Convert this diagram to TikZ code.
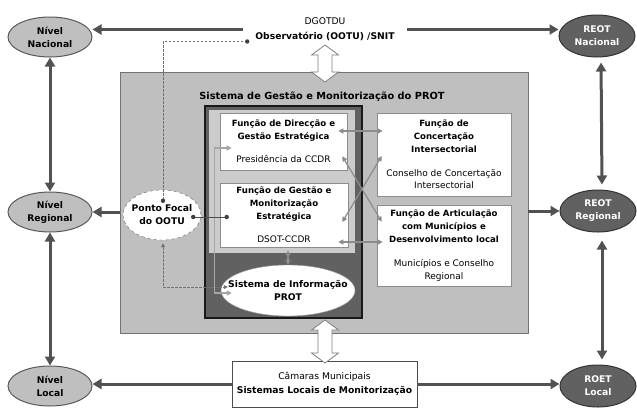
\documentclass[tikz,border=0pt]{standalone}
\usepackage{fontspec}
\setmainfont{DejaVu Sans}
\usetikzlibrary{shapes.geometric,arrows.meta,calc}
\newcommand{\hd}[1]{{\fontsize{8.6}{12.8}\selectfont\bfseries #1}}

\begin{document}
\begin{tikzpicture}[x=1pt,y=-1pt,
  every node/.style={font=\fontsize{9.2}{13}\selectfont,align=center,inner sep=0pt},
  boldtxt/.style={font=\fontsize{9.2}{13}\selectfont\bfseries},
  boxtxt/.style={font=\fontsize{9}{12.8}\selectfont},
  lvl/.style={ellipse,boldtxt,draw=black!65,line width=1pt,fill=black!25,minimum width=84,minimum height=40},
  reot/.style={ellipse,boldtxt,draw=black!80,line width=1pt,fill=black!62,text=white,minimum width=76,minimum height=42},
  fbox/.style={draw=black!45,line width=0.6pt,fill=white},
  big/.style={draw=black!68,line width=3pt,-{Triangle[length=9pt,width=10pt]}},
  bigboth/.style={big,{Triangle[length=9pt,width=10pt]}-{Triangle[length=9pt,width=10pt]}},
  link/.style={draw=black!45,line width=1.2pt,{Triangle[length=5pt,width=5pt]}-{Triangle[length=5pt,width=5pt]}},
  dashlink/.style={draw=black!55,line width=0.8pt,dash pattern=on 2.5pt off 1.5pt},
  hollow/.style={draw=black!50,line width=0.8pt,fill=white}
]
\path[use as bounding box,fill=white] (0,0) rectangle (637,408);

\node[draw=black!55,line width=0.8pt,fill=black!25,minimum width=408,minimum height=261] (sys) at (324,202.5) {};
\node[font=\fontsize{9.8}{12}\selectfont\bfseries] (title) at (322,97) {Sistema de Gestão e Monitorização do PROT};
\node[draw=black!90,line width=1.5pt,fill=black!62,minimum width=157,minimum height=212] (core) at (283.5,212) {};
\node[fill=black!20,minimum width=146,minimum height=143] (coretop) at (282,181.5) {};

\node[fbox,boxtxt,minimum width=127,minimum height=57] (dir) at (283.5,141.5)
  {\hd{Função de Direcção e}\\\hd{Gestão Estratégica}\\[10pt]Presidência da CCDR};
\node[fbox,boxtxt,minimum width=128,minimum height=64] (gest) at (284,215)
  {\hd{Função de Gestão e}\\\hd{Monitorização}\\\hd{Estratégica}\\[11pt]DSOT-CCDR};
\node[fbox,boxtxt,minimum width=134,minimum height=83] (conc) at (444,154.5)
  {\hd{Função de}\\\hd{Concertação}\\\hd{Intersectorial}\\[11pt]Conselho de Concertação\\Intersectorial};
\node[fbox,boxtxt,minimum width=134,minimum height=81] (art) at (444,245.5)
  {\hd{Função de Articulação}\\\hd{com Municípios e}\\\hd{Desenvolvimento local}\\[11pt]Municípios e Conselho\\Regional};
\node[ellipse,boldtxt,fill=white,draw=black!40,minimum width=134,minimum height=51,inner xsep=-16pt] (sinf) at (288,290.5)
  {Sistema de Informação\\PROT};
\node[ellipse,boldtxt,fill=white,draw=black!60,dashed,minimum width=78,minimum height=50,inner xsep=-8pt] (pf) at (162,215)
  {Ponto Focal\\do OOTU};

\node (obs) at (325,29.5) {DGOTDU\\[2pt]\textbf{Observatório (OOTU) /SNIT}};
\node[fbox,draw=black!70,minimum width=185,minimum height=46] (cam) at (324.5,384)
  {Câmaras Municipais\\[1pt]\textbf{Sistemas Locais de Monitorização}};

\node[lvl] (nac) at (50,37) {Nível\\Nacional};
\node[lvl] (reg) at (50,212) {Nível\\Regional};
\node[lvl] (loc) at (50,386) {Nível\\Local};
\node[reot] (rnac) at (597,36) {REOT\\Nacional};
\node[reot] (rreg) at (598,211) {REOT\\Regional};
\node[reot] (rloc) at (598,386) {ROET\\Local};

\draw[hollow] (325,45) -- (338.5,55) -- (332,55) -- (332,72) -- (338.5,72) -- (325,82)
  -- (311.5,72) -- (318,72) -- (318,55) -- (311.5,55) -- cycle;
\draw[hollow] (325,320) -- (338.5,330) -- (332,330) -- (332,353) -- (338.5,353) -- (325,363)
  -- (311.5,353) -- (318,353) -- (318,330) -- (311.5,330) -- cycle;

\draw[big] ($(obs.west)+(-12,0)$) coordinate (ol) -- (ol -| nac.east);
\draw[big] ($(obs.east)+(12,0)$) coordinate (orr) -- (orr -| rnac.west);
\draw[big] (sys.west |- reg.east) -- (reg.east);
\draw[big] (sys.east |- rreg.west) -- (rreg.west);
\draw[big] (cam.west) -- (cam.west -| loc.east);
\draw[big] (cam.east) -- (cam.east -| rloc.west);
\draw[bigboth] (nac) -- (reg);
\draw[bigboth] (reg) -- (loc);
\draw[bigboth,shorten <=5pt,shorten >=5pt] ([xshift=4pt]rnac.south) -- ([xshift=4pt]rreg.north);
\draw[bigboth,shorten <=8pt,shorten >=5pt] ([xshift=4pt]rreg.south) -- ([xshift=4pt]rloc.north);

\draw[link] ($(dir.east)+(-9,-10.5)$) -- ($(conc.west)+(6,-23.5)$);
\draw[link] ($(dir.south east)+(-5,-14)$) -- ($(art.north west)+(5,17)$);
\draw[link] ($(conc.west)+(5,1.5)$) -- ($(gest.east)+(-6,7)$);
\draw[link] ($(gest.east)+(-10,27)$) -- ($(art.west)+(6,-3.5)$);
\draw[link] ($(gest.south -| sinf.north)+(0,3)$) -- (sinf.north);
\draw[link,draw=black!35] ($(sinf.west)+(11,2.5)$) -- ++(-17,0) |- ($(dir.west)+(12,6.5)$);

\coordinate (pfd) at ($(pf.east)+(-8,2)$);
\coordinate (gd) at ($(gest.west)+(7,2)$);
\draw[black!70,line width=1pt] (pfd) -- (gd);
\fill[black!75] (pfd) circle (2.2) (gd) circle (2.2);

\coordinate (odot) at ($(obs.west)+(-8,12)$);
\coordinate (pftop) at ($(pf.north)+(1,11)$);
\draw[dashlink] (odot) -| (pftop);
\fill[black!75] (odot) circle (2.2) (pftop) circle (2.2);

\draw[dashlink,{Triangle[length=4pt,width=4pt]}-{Triangle[length=4pt,width=4pt]}]
  ($(pf.south)+(1,3)$) |- ($(sinf.west)+(7,-3.5)$);
\end{tikzpicture}
\end{document}
